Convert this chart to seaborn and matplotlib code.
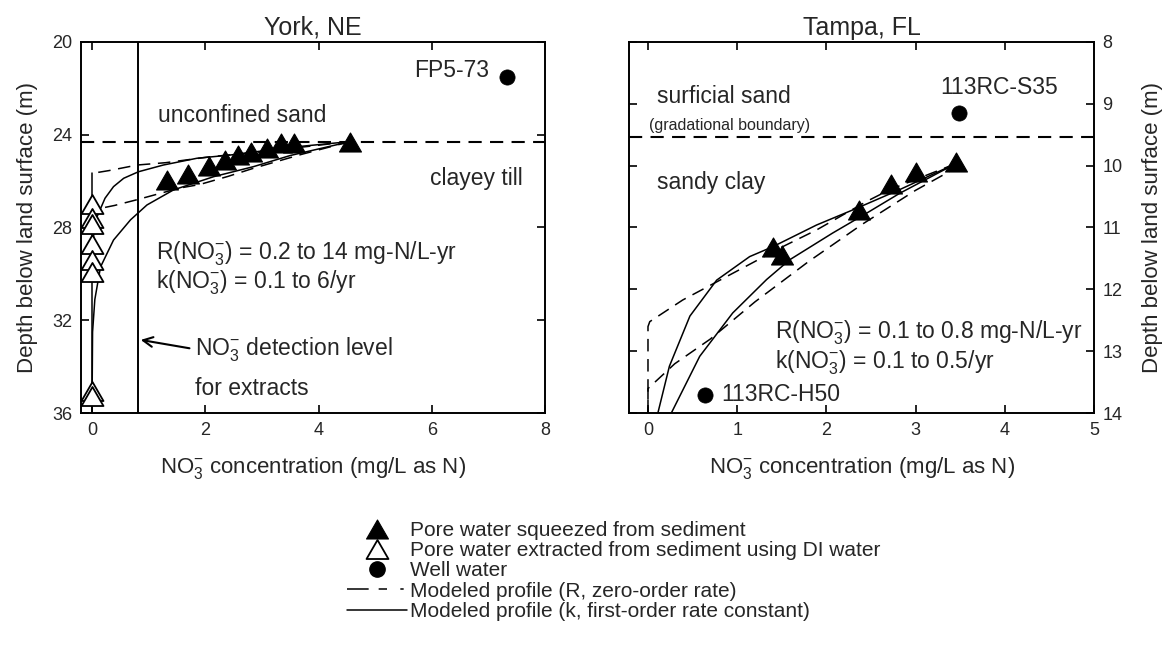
import matplotlib
matplotlib.use("Agg")
import matplotlib.pyplot as plt
from matplotlib.path import Path
from matplotlib.lines import Line2D
import seaborn as sns

# ---------------- data ----------------
# York, NE
york_sq_x = [1.32, 1.70, 2.07, 2.35, 2.58, 2.80, 3.08, 3.33, 3.56, 4.56]
york_sq_d = [25.95, 25.70, 25.35, 25.08, 24.88, 24.73, 24.58, 24.38, 24.35, 24.30]
york_di_x = [0.0, 0.0, 0.0, 0.0, 0.0, 0.0, 0.0, 0.0]
york_di_d = [27.0, 27.6, 27.85, 28.7, 29.4, 29.9, 35.05, 35.25]
york_well_x = [7.32]
york_well_d = [21.5]
york_detect = 0.81
york_boundary = 24.3
# modeled profiles (zero-order R, dashed)
york_r1_x = [4.56, 2.85, 2.10, 1.30, 0.80, 0.30, 0.0]
york_r1_d = [24.30, 24.78, 24.95, 25.21, 25.31, 25.55, 25.67]
york_r2_x = [4.56, 3.70, 2.85, 2.40, 1.90, 1.55, 1.10, 0.80, 0.40, 0.0]
york_r2_d = [24.30, 24.85, 25.45, 25.80, 26.15, 26.30, 26.60, 26.80, 27.05, 27.25]
york_zero_x = [0.0, 0.0]
york_zero_d = [25.67, 36.0]
# modeled profiles (first-order k, solid)
york_k1_x = [4.56, 3.50, 2.44, 1.85, 1.26, 0.82, 0.56, 0.38, 0.23, 0.09, 0.03, 0.0]
york_k1_d = [24.30, 24.55, 24.88, 25.02, 25.31, 25.60, 25.88, 26.24, 26.74, 27.53, 28.30, 30.0]
york_k2_x = [4.56, 3.50, 2.85, 2.15, 1.44, 0.97, 0.68, 0.38, 0.15, 0.05, 0.01, 0.0]
york_k2_d = [24.30, 24.90, 25.38, 25.81, 26.38, 27.03, 27.67, 28.54, 29.70, 31.10, 32.50, 36.0]

# Tampa, FL
tampa_sq_x = [3.45, 3.00, 2.72, 2.37, 1.40, 1.50]
tampa_sq_d = [9.95, 10.10, 10.30, 10.72, 11.32, 11.45]
tampa_well_x = [3.49, 0.64]
tampa_well_d = [9.15, 13.70]
tampa_boundary = 9.54
tampa_r1_x = [3.45, 2.71, 2.45, 1.89, 1.51, 0.95, 0.39, 0.02, 0.0, 0.0]
tampa_r1_d = [9.97, 10.39, 10.58, 11.04, 11.31, 11.74, 12.17, 12.52, 12.60, 14.0]
tampa_r2_x = [3.50, 3.00, 2.40, 1.80, 1.20, 0.70, 0.30, 0.0, 0.0]
tampa_r2_d = [10.00, 10.40, 10.95, 11.55, 12.20, 12.80, 13.20, 13.60, 14.0]
tampa_k1_x = [3.45, 2.82, 2.34, 1.89, 1.40, 1.14, 0.77, 0.47, 0.24, 0.11]
tampa_k1_d = [9.97, 10.39, 10.69, 10.96, 11.31, 11.47, 11.85, 12.43, 13.24, 14.0]
tampa_k2_x = [3.45, 2.82, 2.45, 2.07, 1.59, 1.33, 0.95, 0.58, 0.26]
tampa_k2_d = [9.97, 10.45, 10.77, 11.09, 11.52, 11.84, 12.38, 13.08, 14.0]

york_xticks = [0, 2, 4, 6, 8]
york_yticks = [20, 24, 28, 32, 36]
tampa_xticks = [0, 1, 2, 3, 4, 5]
tampa_yticks = [8, 9, 10, 11, 12, 13, 14]

legend_labels = [
    "Pore water squeezed from sediment",
    "Pore water extracted from sediment using DI water",
    "Well water",
    "Modeled profile (R, zero-order rate)",
    "Modeled profile (k, first-order rate constant)",
]

# ---------------- style ----------------
sns.set_style("ticks")
plt.rcParams["font.family"] = ["Liberation Sans", "DejaVu Sans"]
plt.rcParams["mathtext.fontset"] = "custom"
plt.rcParams["mathtext.rm"] = "Liberation Sans"
plt.rcParams["mathtext.it"] = "Liberation Sans:italic"
plt.rcParams["mathtext.bf"] = "Liberation Sans:bold"
plt.rcParams["lines.scale_dashes"] = False
plt.rcParams["axes.linewidth"] = 1.4

TRI = Path([(-1, -0.866), (1, -0.866), (0, 0.866), (-1, -0.866)],
           [Path.MOVETO, Path.LINETO, Path.LINETO, Path.CLOSEPOLY])
TRI_S = 250
CIRC_S = 120
DASH = (0, (9, 5.5))
LEGDASH = (0, (15.6, 7.2, 6, 9.6, 2.4, 5))
ANN = 16.5
NO3 = r"NO$_3^{-}$"

fig = plt.figure(figsize=(11.64, 6.69), dpi=100)
axL = fig.add_axes([0.0693, 0.3822, 0.3992, 0.5555])
axR = fig.add_axes([0.5406, 0.3822, 0.3992, 0.5555])


def curve(ax, x, y, ls, lw=1.1):
    sns.lineplot(x=x, y=y, sort=False, estimator=None, ax=ax, color="black",
                 lw=lw, linestyle=ls, zorder=2)


def tri(ax, x, y, filled):
    sns.scatterplot(x=x, y=y, ax=ax, marker=TRI, s=TRI_S,
                    color="black" if filled else "white",
                    edgecolor="black", linewidth=0.8 if filled else 1.3,
                    zorder=4 if filled else 3, legend=False)


def well(ax, x, y):
    sns.scatterplot(x=x, y=y, ax=ax, marker="o", s=CIRC_S, color="black",
                    edgecolor="black", linewidth=0.5, zorder=4, legend=False)


# ---------------- York, NE ----------------
ax = axL
ax.axhline(york_boundary, color="black", lw=1.5, linestyle=(0, (9.5, 6)), zorder=1)
ax.axvline(york_detect, color="black", lw=1.4, zorder=1)
curve(ax, york_zero_x, york_zero_d, "-", lw=1.1)
curve(ax, york_r1_x, york_r1_d, DASH)
curve(ax, york_r2_x, york_r2_d, DASH)
curve(ax, york_k1_x, york_k1_d, "-")
curve(ax, york_k2_x, york_k2_d, "-")
tri(ax, york_di_x, york_di_d, False)
tri(ax, york_sq_x, york_sq_d, True)
well(ax, york_well_x, york_well_d)

ax.set_xlim(-0.2, 8.0)
ax.set_ylim(36, 20)
ax.set_xticks(york_xticks)
ax.set_yticks(york_yticks)
ax.set_title("York, NE", fontsize=18, pad=5)
ax.set_xlabel(NO3 + " concentration (mg/L as N)", fontsize=16, labelpad=12)
ax.set_ylabel("Depth below land surface (m)", fontsize=16, labelpad=10)

ax.text(7.01, 21.22, "FP5-73", fontsize=ANN, ha="right", va="center")
ax.text(1.16, 23.16, "unconfined sand", fontsize=ANN, ha="left", va="center")
ax.text(7.60, 25.88, "clayey till", fontsize=ANN, ha="right", va="center")
ax.text(1.13, 29.11, "R(" + NO3 + ") = 0.2 to 14 mg-N/L-yr", fontsize=ANN,
        ha="left", va="center")
ax.text(1.13, 30.40, "k(" + NO3 + ") = 0.1 to 6/yr", fontsize=ANN,
        ha="left", va="center")
ax.text(1.81, 33.27, NO3 + " detection level", fontsize=ANN, ha="left", va="center")
ax.text(1.81, 34.92, "for extracts", fontsize=ANN, ha="left", va="center")
ax.annotate("", xy=(0.86, 32.84), xytext=(1.72, 33.2),
            arrowprops=dict(arrowstyle="->,head_length=0.7,head_width=0.35",
                            color="black", lw=1.5, shrinkA=0, shrinkB=0))

# ---------------- Tampa, FL ----------------
ax = axR
ax.axhline(tampa_boundary, color="black", lw=1.5, linestyle=(0, (9.5, 6)), zorder=1)
curve(ax, tampa_r1_x, tampa_r1_d, DASH)
curve(ax, tampa_r2_x, tampa_r2_d, DASH)
curve(ax, tampa_k1_x, tampa_k1_d, "-")
curve(ax, tampa_k2_x, tampa_k2_d, "-")
tri(ax, tampa_sq_x, tampa_sq_d, True)
well(ax, tampa_well_x, tampa_well_d)

ax.set_xlim(-0.21, 5.0)
ax.set_ylim(14, 8)
ax.set_xticks(tampa_xticks)
ax.set_yticks(tampa_yticks)
ax.set_title("Tampa, FL", fontsize=18, pad=5)
ax.set_xlabel(NO3 + " concentration (mg/L as N)", fontsize=16, labelpad=12)
ax.yaxis.set_label_position("right")
ax.yaxis.tick_right()
ax.set_ylabel("Depth below land surface (m)", fontsize=16, labelpad=14)

ax.text(3.94, 8.74, "113RC-S35", fontsize=ANN, ha="center", va="center")
ax.text(0.10, 8.89, "surficial sand", fontsize=ANN, ha="left", va="center")
ax.text(0.01, 9.36, "(gradational boundary)", fontsize=11.5, ha="left", va="center")
ax.text(0.10, 10.28, "sandy clay", fontsize=ANN, ha="left", va="center")
ax.text(1.42, 12.70, "R(" + NO3 + ") = 0.1 to 0.8 mg-N/L-yr", fontsize=ANN,
        ha="left", va="center")
ax.text(1.42, 13.18, "k(" + NO3 + ") = 0.1 to 0.5/yr", fontsize=ANN,
        ha="left", va="center")
ax.text(0.82, 13.70, "113RC-H50", fontsize=ANN, ha="left", va="center")

for a in (axL, axR):
    a.tick_params(direction="in", top=True, bottom=True, left=True, right=True,
                  length=6, width=1.2, labelsize=13, pad=6, color="black")
    for s in a.spines.values():
        s.set_color("black")
        s.set_linewidth(1.4)
    a.grid(False)
axR.tick_params(labelleft=False, labelright=True)

# ---------------- legend ----------------
handles = [
    Line2D([], [], ls="none", marker=TRI, ms=15.8, mfc="black", mec="black", mew=0.8),
    Line2D([], [], ls="none", marker=TRI, ms=15.8, mfc="white", mec="black", mew=1.3),
    Line2D([], [], ls="none", marker="o", ms=11, mfc="black", mec="black"),
    Line2D([], [], color="black", lw=1.1, linestyle=LEGDASH),
    Line2D([], [], color="black", lw=1.1, linestyle="-"),
]
fig.legend(handles, legend_labels, loc="upper left",
           bbox_to_anchor=(346.7 / 1164, 1 - 521 / 669), bbox_transform=fig.transFigure,
           frameon=False, fontsize=15, handlelength=2.9, handletextpad=0.16,
           labelspacing=0.06, borderpad=0, borderaxespad=0)

fig.savefig("out.png", dpi=100)
